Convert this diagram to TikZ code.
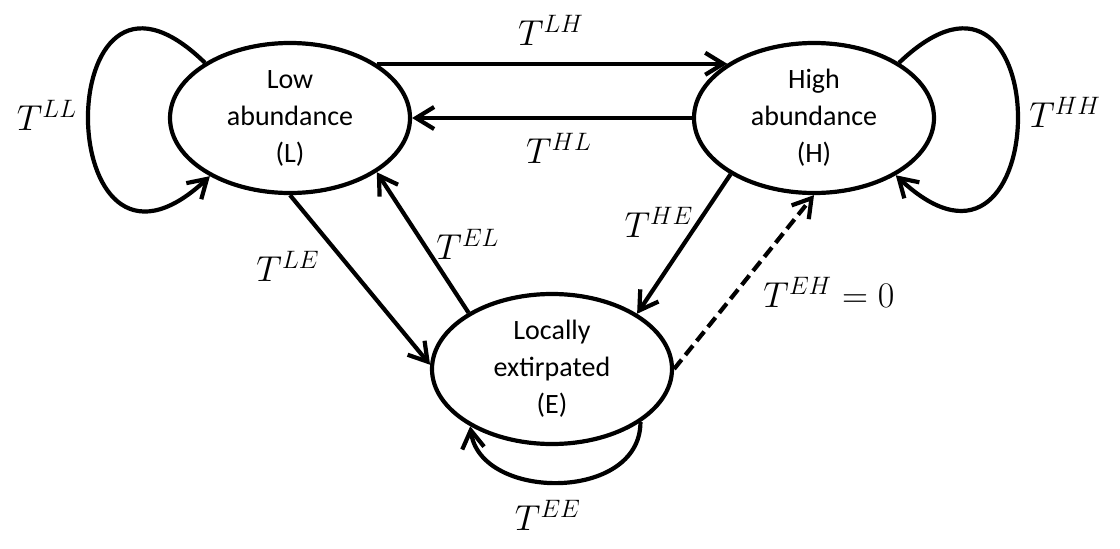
\RequirePackage{fix-cm}
\documentclass[tikz,border=0pt]{standalone}
\usepackage{fontspec}
\setsansfont{Carlito}
\usetikzlibrary{
    arrows.meta,
    shapes,
    positioning,
    calc
}
\tikzset{%
    >={Straight Barb[length=9pt,width=11pt]},
    % Specifications for style of nodes:
    base/.style = {
        ellipse, draw=black, line width=2.1pt,
        minimum width=120pt, minimum height=75pt, inner sep=0pt,
        text centered, font=\sffamily\fontsize{14}{18.5}\selectfont,
        fill=white, align=center
    },
    state/.style = {base},
    trans/.style = {->, line width=2.1pt},
    lbl/.style = {font=\fontsize{18}{20}\selectfont, inner sep=0pt}
}
\begin{document}
\begin{tikzpicture}[x=0.5pt, y=0.5pt]
    \useasboundingbox (0,0) rectangle (1120,548);
    \node[state] (L) at (290,430) {Low\\abundance\\(L)};
    \node[state] (H) at (814,430) {High\\abundance\\(H)};
    \node[state] (E) at (552,179) {Locally\\extirpated\\(E)};

    \draw[trans] (L.32) -- (H.148);
    \draw[trans] (H.west) -- (L.east);
    \draw[trans] (L.south) -- (E.178);
    \draw[trans] (E.146) -- (L.-32);
    \draw[trans] (H.-146) -- (E.33);
    \draw[trans, dash pattern=on 6pt off 3pt] (E.east) -- (H.south);
    % self loops
    \draw[trans] (L.147) .. controls +(-157,153) and +(-160,-149) .. (L.-144);
    \draw[trans] (H.33) .. controls +(160,153) and +(160,-150) .. (H.-35);
    \draw[trans] (E.-31) .. controls +(0,-80) and +(10,-75) .. (E.-145);

    \node[lbl] (tLH) at (551,518) {$T^{LH}$};
    \node[lbl] (tHL) at (559,400) {$T^{HL}$};
    \node[lbl] (tLL) at (47,433) {$T^{LL}$};
    \node[lbl] (tHH) at (1065,436) {$T^{HH}$};
    \node[lbl] (tLE) at (288,282) {$T^{LE}$};
    \node[lbl] (tEL) at (468,304) {$T^{EL}$};
    \node[lbl] (tHE) at (659,326) {$T^{HE}$};
    \node[lbl] (tEH) at (829,256) {$T^{EH} = 0$};
    \node[lbl] (tEE) at (548,33) {$T^{EE}$};
\end{tikzpicture}
\end{document}
